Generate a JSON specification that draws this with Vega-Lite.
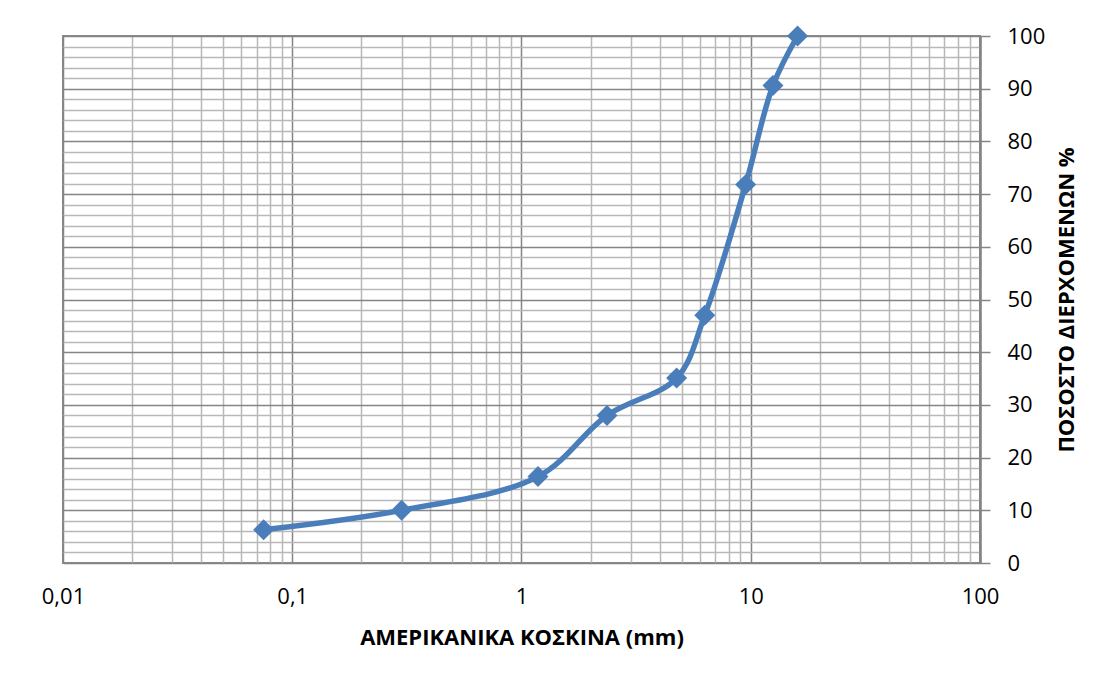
{
  "$schema": "https://vega.github.io/schema/vega-lite/v6.json",
  "autosize": {"type": "none"},
  "padding": {"left": 63, "top": 36, "right": 135, "bottom": 121},
  "width": 917,
  "height": 527,
  "background": "white",
  "config": {
    "view": {"stroke": "#8a8a8a", "strokeWidth": 2},
    "font": "Open Sans"
  },
  "data": {
    "values": [
      {"sieve": 0.075, "pass": 6.3},
      {"sieve": 0.3, "pass": 10},
      {"sieve": 1.18, "pass": 16.4},
      {"sieve": 2.36, "pass": 28},
      {"sieve": 4.75, "pass": 35.1},
      {"sieve": 6.3, "pass": 47},
      {"sieve": 9.5, "pass": 71.8},
      {"sieve": 12.5, "pass": 90.6},
      {"sieve": 16, "pass": 100}
    ]
  },
  "encoding": {
    "x": {
      "field": "sieve",
      "type": "quantitative",
      "scale": {"type": "log", "domain": [0.01, 100], "nice": false},
      "axis": {
        "title": "ΑΜΕΡΙΚΑΝΙΚΑ ΚΟΣΚΙΝΑ (mm)",
        "titleFont": "Open Sans",
        "titleFontSize": 22,
        "titleFontWeight": "bold",
        "titleColor": "#000000",
        "titlePadding": 20,
        "values": [0.01, 0.02, 0.03, 0.04, 0.05, 0.06, 0.07, 0.08, 0.09, 0.1, 0.2, 0.3, 0.4, 0.5, 0.6, 0.7, 0.8, 0.9, 1, 2, 3, 4, 5, 6, 7, 8, 9, 10, 20, 30, 40, 50, 60, 70, 80, 90, 100],
        "labelExpr": "abs(log(datum.value)/LN10 - round(log(datum.value)/LN10)) < 1e-6 ? replace(toString(datum.value), '.', ',') : ''",
        "labelFont": "Open Sans",
        "labelFontSize": 22,
        "labelColor": "#000000",
        "labelPadding": 23,
        "labelFlush": false,
        "labelOverlap": false,
        "ticks": false,
        "tickSize": 0,
        "domain": false,
        "grid": true,
        "gridColor": {"condition": {"test": "abs(log(datum.value)/LN10 - round(log(datum.value)/LN10)) < 1e-6", "value": "#858585"}, "value": "#b8b8b8"},
        "gridWidth": 1.5,
        "gridOpacity": 1
      }
    },
    "y": {
      "field": "pass",
      "type": "quantitative",
      "scale": {"domain": [0, 100], "nice": false},
      "axis": {
        "orient": "right",
        "title": "ΠΟΣΟΣΤΟ ΔΙΕΡΧΟΜΕΝΩΝ %",
        "titleFont": "Open Sans",
        "titleFontSize": 22,
        "titleFontWeight": "bold",
        "titleColor": "#000000",
        "titleAngle": 270,
        "titlePadding": 34,
        "values": [0, 2, 4, 6, 8, 10, 12, 14, 16, 18, 20, 22, 24, 26, 28, 30, 32, 34, 36, 38, 40, 42, 44, 46, 48, 50, 52, 54, 56, 58, 60, 62, 64, 66, 68, 70, 72, 74, 76, 78, 80, 82, 84, 86, 88, 90, 92, 94, 96, 98, 100],
        "labelExpr": "datum.value % 10 === 0 ? datum.label : ''",
        "labelFont": "Open Sans",
        "labelFontSize": 22,
        "labelColor": "#000000",
        "labelPadding": 17,
        "labelFlush": false,
        "labelOverlap": false,
        "ticks": true,
        "tickSize": 10,
        "tickColor": "#858585",
        "tickWidth": 1.5,
        "tickOpacity": {"condition": {"test": "datum.value % 10 === 0", "value": 1}, "value": 0},
        "domain": true,
        "domainColor": "#858585",
        "domainWidth": 2.5,
        "grid": true,
        "gridColor": {"condition": {"test": "datum.value % 10 === 0", "value": "#858585"}, "value": "#b8b8b8"},
        "gridWidth": 1.5,
        "gridOpacity": 1
      }
    }
  },
  "layer": [
    {
      "mark": {"type": "line", "interpolate": "catmull-rom", "color": "#4a7ebb", "strokeWidth": 5.5, "clip": false}
    },
    {
      "mark": {"type": "point", "shape": "diamond", "filled": true, "size": 440, "color": "#4a7ebb", "opacity": 1, "clip": false}
    }
  ]
}
